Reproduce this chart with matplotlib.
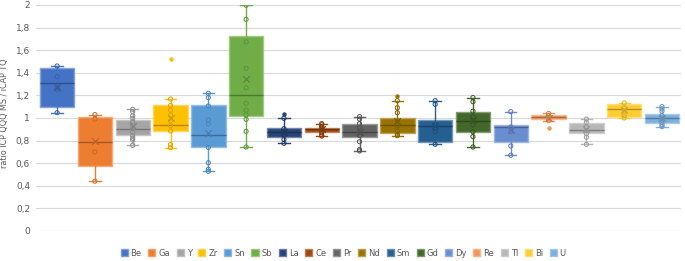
import matplotlib
matplotlib.use("Agg")
import matplotlib.pyplot as plt
import matplotlib.colors as mcolors
from matplotlib.patches import Patch
from matplotlib.ticker import FuncFormatter

# elements, in plotting order
elements = ["Be", "Ga", "Y", "Zr", "Sn", "Sb", "La", "Ce", "Pr",
            "Nd", "Sm", "Gd", "Dy", "Re", "Tl", "Bi", "U"]
colors = ["#4472C4", "#ED7D31", "#A5A5A5", "#FFC000", "#5B9BD5", "#70AD47",
          "#264478", "#9E480E", "#636363", "#997300", "#255E91", "#43682B",
          "#698ED0", "#F1975A", "#B7B7B7", "#FFCD33", "#7CAFDD"]

# box statistics
whisker_lo = [1.047, 0.44, 0.758, 0.737, 0.528, 0.743, 0.776, 0.84, 0.708,
              0.843, 0.767, 0.743, 0.67, 0.976, 0.767, 1.0, 0.923]
q1 = [1.095, 0.573, 0.853, 0.888, 0.741, 1.018, 0.832, 0.879, 0.835,
      0.87, 0.785, 0.879, 0.785, 0.988, 0.864, 1.006, 0.953]
median = [1.307, 0.785, 0.906, 0.938, 0.847, 1.204, 0.88, 0.9, 0.876,
          0.935, 0.929, 0.973, 0.92, 1.009, 0.894, 1.08, 0.997]
q3 = [1.44, 1.01, 0.98, 1.112, 1.112, 1.726, 0.911, 0.914, 0.944,
      0.997, 0.98, 1.056, 0.938, 1.027, 0.953, 1.121, 1.038]
whisker_hi = [1.46, 1.03, 1.077, 1.168, 1.218, 1.997, 0.997, 0.95, 1.012,
              1.153, 1.153, 1.18, 1.056, 1.04, 0.99, 1.133, 1.1]
mean = [1.277, 0.794, 0.93, 1.003, 0.87, 1.348, 0.88, 0.9, 0.88,
        0.97, 0.93, 0.98, 0.894, 1.0, 0.9, 1.07, 1.0]

# inner points and outliers
inner_points = [
    [1.46, 1.366, 1.27, 1.25, 1.047],
    [1.03, 0.99, 0.70, 0.44],
    [1.077, 1.056, 1.02, 0.997, 0.967, 0.935, 0.905, 0.876, 0.84, 0.82, 0.805, 0.758],
    [1.168, 1.11, 1.068, 1.024, 0.976, 0.932, 0.885, 0.764, 0.737],
    [1.218, 1.18, 1.106, 0.982, 0.947, 0.74, 0.604, 0.546, 0.528],
    [1.997, 1.873, 1.673, 1.44, 1.268, 1.13, 1.07, 1.027, 0.988, 0.882, 0.743],
    [0.997, 0.905, 0.88, 0.85, 0.81, 0.776],
    [0.95, 0.94, 0.92, 0.9, 0.87, 0.85, 0.84],
    [1.012, 0.99, 0.95, 0.917, 0.88, 0.845, 0.79, 0.72, 0.708],
    [1.153, 1.09, 1.047, 0.973, 0.93, 0.885, 0.856, 0.843],
    [1.153, 1.121, 0.944, 0.909, 0.879, 0.767],
    [1.18, 1.144, 1.06, 1.012, 0.976, 0.938, 0.879, 0.835, 0.743],
    [1.056, 0.92, 0.88, 0.752, 0.67],
    [1.04, 1.02, 1.0, 0.976],
    [0.99, 0.96, 0.92, 0.89, 0.86, 0.83, 0.767],
    [1.133, 1.09, 1.06, 1.02, 1.0],
    [1.1, 1.08, 1.06, 1.02, 1.0, 0.98, 0.96, 0.94, 0.923],
]
outliers = [[], [], [], [1.52], [], [], [1.038], [], [],
            [1.195], [], [], [], [0.909], [], [], []]

TEXT = "#595959"


def shade(c, f):
    r, g, b = mcolors.to_rgb(c)
    if f > 0:
        return (r + (1 - r) * f, g + (1 - g) * f, b + (1 - b) * f)
    return (r * (1 + f), g * (1 + f), b * (1 + f))


fig = plt.figure(figsize=(6.85, 2.61), dpi=100)
ax = fig.add_axes([0.053, 0.115, 0.941, 0.866])

for i, el in enumerate(elements):
    c = colors[i]
    stats = [dict(med=median[i], q1=q1[i], q3=q3[i], whislo=whisker_lo[i],
                  whishi=whisker_hi[i], fliers=[], label=el)]
    ax.bxp(stats, positions=[i], widths=0.91, patch_artist=True,
           showfliers=False, manage_ticks=False,
           boxprops=dict(facecolor=c, edgecolor=shade(c, 0.35), linewidth=1.0),
           medianprops=dict(color=shade(c, -0.3), linewidth=1.0),
           whiskerprops=dict(color=c, linewidth=1.0),
           capprops=dict(color=c, linewidth=1.0),
           capwidths=0.3, zorder=3)
    ax.scatter([i] * len(inner_points[i]), inner_points[i], s=9,
               facecolors="none", edgecolors=shade(c, -0.15), linewidths=0.7,
               zorder=4)
    if outliers[i]:
        ax.scatter([i] * len(outliers[i]), outliers[i], s=10, color=c,
                   linewidths=0, zorder=4)
    ax.scatter([i], [mean[i]], marker="x", s=22, color=shade(c, -0.2),
               linewidths=0.9, zorder=5)

ax.set_xlim(-0.55, 16.5)
ax.set_ylim(0, 2)
ax.set_yticks([i / 5 for i in range(11)])
ax.yaxis.set_major_formatter(
    FuncFormatter(lambda v, p: f"{v:g}".replace(".", ",")))
ax.tick_params(axis="y", length=0, labelsize=6.5, colors=TEXT, pad=4.5)
ax.set_xticks([])
ax.grid(axis="y", color="#D9D9D9", linewidth=0.8, zorder=0)
ax.set_axisbelow(True)
for s in ax.spines.values():
    s.set_visible(False)
ax.set_ylabel("ratio ICP QQQ MS / iCAP TQ", fontsize=5.8, color=TEXT)
ax.yaxis.set_label_coords(-0.042, 0.52)

handles = [Patch(facecolor=c, edgecolor=shade(c, 0.3), label=el)
           for el, c in zip(elements, colors)]
fig.legend(handles=handles, loc="center", bbox_to_anchor=(0.501, 0.03),
           ncol=len(elements), frameon=False, fontsize=6,
           handlelength=0.85, handleheight=0.85, handletextpad=0.35,
           columnspacing=0.8, labelcolor=TEXT)

fig.savefig("out.png", dpi=100)
